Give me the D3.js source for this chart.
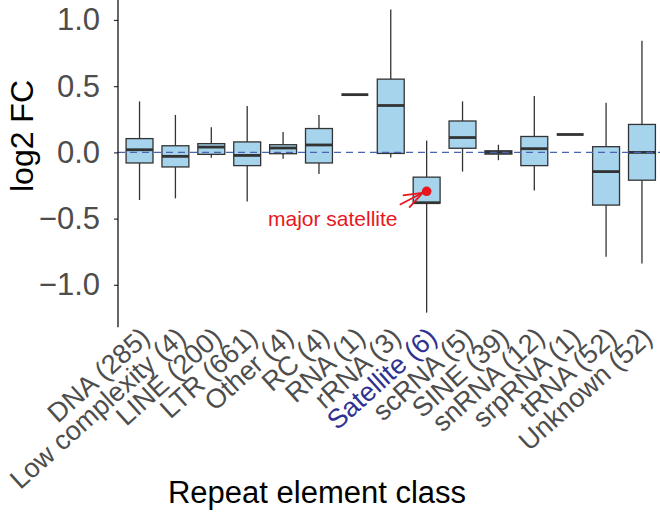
<!DOCTYPE html>
<html>
<head>
<meta charset="utf-8">
<script src="https://cdn.jsdelivr.net/npm/d3@7"></script>
<style>
  body { margin: 0; background: #fff; }
  text { font-family: "Liberation Sans", Arial, Helvetica, sans-serif; }
</style>
</head>
<body>
<div id="chart"></div>
<script>

// repeat element classes (count of elements in brackets)
var classes = ["DNA (285)", "Low complexity (4)", "LINE (200)", "LTR (661)", "Other (4)",
    "RC (4)", "RNA (1)", "rRNA (3)", "Satellite (6)", "scRNA (5)", "SINE (39)",
    "snRNA (12)", "srpRNA (1)", "tRNA (52)", "Unknown (52)"];

// box statistics, log2 FC
var whiskerLow = [-0.36, -0.347, -0.04, -0.37, -0.049, -0.164, 0.436, -0.038, -1.21, -0.145, -0.059, -0.288, 0.135, -0.788, -0.839];
var q1         = [-0.08, -0.11, -0.015, -0.10, -0.01, -0.08, 0.436, -0.008, -0.383, 0.031, -0.013, -0.10, 0.135, -0.398, -0.21];
var median     = [0.02, -0.03, 0.04, -0.023, 0.033, 0.056, 0.436, 0.354, -0.38, 0.112, 0.0, 0.028, 0.135, -0.145, 0.0];
var q3         = [0.104, 0.05, 0.066, 0.079, 0.058, 0.18, 0.436, 0.553, -0.187, 0.237, 0.012, 0.12, 0.135, 0.043, 0.211];
var whiskerHigh= [0.385, 0.283, 0.19, 0.35, 0.153, 0.283, 0.436, 1.079, 0.089, 0.385, 0.058, 0.425, 0.135, 0.375, 0.842];

var yTicks = [-1.0, -0.5, 0.0, 0.5, 1.0];

// highlighted element
var highlightClass = "Satellite (6)";
var highlightValue = -0.294;
var highlightLabel = "major satellite";

var width = 660, height = 514;
var margin = {left: 118, top: -4, bottom: 187};

var svg = d3.select("#chart").append("svg")
    .attr("width", width)
    .attr("height", height);

var x = d3.scaleBand()
    .domain(classes)
    .range([margin.left, 663.5])
    .paddingInner(0)
    .paddingOuter(0.1);

var y = d3.scaleLinear()
    .domain([-1.32, 1.18])
    .range([height - margin.bottom + 0.2, margin.top + 0.1]);

var boxW = x.bandwidth() * 0.75;
var cx = function (i) { return x(classes[i]) + x.bandwidth() / 2; };

var data = classes.map(function (c, i) {
    return {name: c, lo: whiskerLow[i], q1: q1[i], med: median[i], q3: q3[i], hi: whiskerHigh[i], i: i};
});

var g = svg.append("g");

var box = g.selectAll("g.box")
    .data(data)
    .enter()
    .append("g")
    .attr("class", "box");

// whiskers
box.append("line")
    .attr("x1", function (d) { return cx(d.i); })
    .attr("x2", function (d) { return cx(d.i); })
    .attr("y1", function (d) { return y(d.hi); })
    .attr("y2", function (d) { return y(d.q3); })
    .attr("stroke", "#333")
    .attr("stroke-width", 1.3);
box.append("line")
    .attr("x1", function (d) { return cx(d.i); })
    .attr("x2", function (d) { return cx(d.i); })
    .attr("y1", function (d) { return y(d.q1); })
    .attr("y2", function (d) { return y(d.lo); })
    .attr("stroke", "#333")
    .attr("stroke-width", 1.3);

box.append("rect")
    .attr("x", function (d) { return cx(d.i) - boxW / 2; })
    .attr("y", function (d) { return y(d.q3); })
    .attr("width", boxW)
    .attr("height", function (d) { return y(d.q1) - y(d.q3); })
    .attr("fill", "#a5d4ec")
    .attr("stroke", "#333")
    .attr("stroke-width", 1.3);

box.append("line")
    .attr("x1", function (d) { return cx(d.i) - boxW / 2; })
    .attr("x2", function (d) { return cx(d.i) + boxW / 2; })
    .attr("y1", function (d) { return y(d.med); })
    .attr("y2", function (d) { return y(d.med); })
    .attr("stroke", "#333")
    .attr("stroke-width", 2.8);

// zero line
g.append("line")
    .attr("x1", margin.left)
    .attr("x2", width)
    .attr("y1", y(0))
    .attr("y2", y(0))
    .attr("stroke", "#4a64b0")
    .attr("stroke-width", 1.4)
    .attr("stroke-dasharray", "7,5");

// y axis
var yAxis = d3.axisLeft(y)
    .tickValues(yTicks)
    .tickFormat(d3.format(".1f"))
    .tickSize(4)
    .tickPadding(14);

var ya = svg.append("g")
    .attr("transform", "translate(" + margin.left + ",0)")
    .call(yAxis);
ya.select(".domain").remove();
ya.append("line")
    .attr("x1", 0).attr("x2", 0)
    .attr("y1", 0).attr("y2", y(-1.32))
    .attr("stroke", "#000")
    .attr("stroke-width", 1.2);
ya.selectAll(".tick line").attr("stroke", "#333").attr("stroke-width", 1.2);
ya.selectAll(".tick text")
    .attr("fill", "#4d4d4d")
    .style("font-size", "31px");

// x labels
svg.append("g").selectAll("text.xl")
    .data(classes)
    .enter()
    .append("text")
    .attr("class", "xl")
    .attr("transform", function (d) {
        return "translate(" + (x(d) + x.bandwidth() / 2 - 1) + "," + (y(-1.32) - 2) + ") rotate(-42)";
    })
    .attr("text-anchor", "end")
    .attr("dy", "0.72em")
    .attr("fill", function (d) { return d === highlightClass ? "#2e3192" : "#4d4d4d"; })
    .style("font-size", "27px")
    .text(function (d) { return d; });

// axis titles
svg.append("text")
    .attr("x", 317)
    .attr("y", 503)
    .attr("text-anchor", "middle")
    .attr("fill", "#000")
    .style("font-size", "31px")
    .text("Repeat element class");

svg.append("text")
    .attr("transform", "translate(33,136) rotate(-90)")
    .attr("text-anchor", "middle")
    .attr("fill", "#000")
    .style("font-size", "32px")
    .text("log2 FC");

// annotation: major satellite
var hx = x(highlightClass) + x.bandwidth() / 2;
var step = x.step();
var tip = [hx - 4, y(highlightValue) + 1.5];
var tail = [hx - 0.75 * step, y(-0.396)];

svg.append("circle")
    .attr("cx", hx)
    .attr("cy", y(highlightValue))
    .attr("r", 4.8)
    .attr("fill", "#e8161e");

var ang = Math.atan2(tip[1] - tail[1], tip[0] - tail[0]);
var headLen = 20, headAng = Math.PI / 9;
var arrow = svg.append("g")
    .attr("stroke", "#e8161e")
    .attr("stroke-width", 1.8)
    .attr("fill", "none");
arrow.append("line")
    .attr("x1", tail[0]).attr("y1", tail[1])
    .attr("x2", tip[0]).attr("y2", tip[1]);
[-1, 1].forEach(function (s) {
    arrow.append("line")
        .attr("x1", tip[0]).attr("y1", tip[1])
        .attr("x2", tip[0] - headLen * Math.cos(ang + s * headAng))
        .attr("y2", tip[1] - headLen * Math.sin(ang + s * headAng));
});

svg.append("text")
    .attr("x", hx - 0.81 * step)
    .attr("y", y(-0.555))
    .attr("text-anchor", "end")
    .attr("fill", "#e8161e")
    .style("font-size", "21px")
    .text(highlightLabel);

</script>
</body>
</html>
